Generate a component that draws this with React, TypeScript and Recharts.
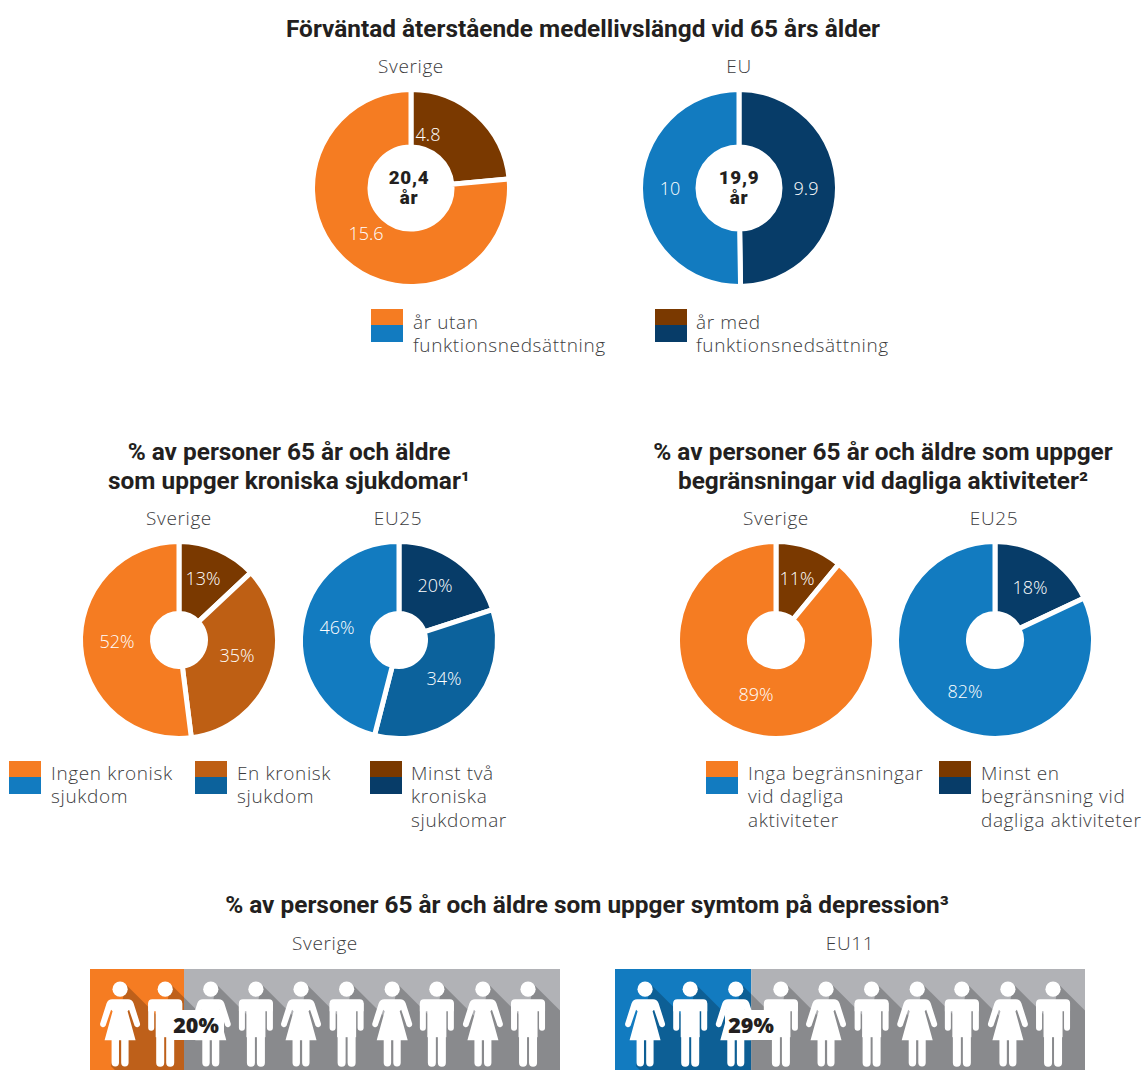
import React from "react";
import { Bar, BarChart, Cell, Pie, PieChart, Scatter, ScatterChart, XAxis, YAxis } from "recharts";

// Values
const lifeSweden = [4.8, 15.6];
const lifeEu = [9.9, 10];
const chronicSweden = [13, 35, 52];
const chronicEu = [20, 34, 46];
const limitSweden = [11, 89];
const limitEu = [18, 82];
const depressionSweden = 20;
const depressionEu = 29;
// heads of the ten figures, as % of the panel width
const peopleX = [6.4, 16, 25.7, 35.3, 44.9, 54.6, 64.3, 73.8, 83.6, 93.2];

const ORANGE = "#f57c22";
const ORANGE_MID = "#be5f14";
const BROWN = "#7a3900";
const BLUE = "#127bc0";
const BLUE_MID = "#0c629c";
const NAVY = "#073c68";
const GREY = "#b1b2b6";

const TITLE_FONT = "Roboto, sans-serif";
const BODY_FONT = "'Open Sans', sans-serif";
const INK = "#231f20";
const SOFT = "#3c3c3e";
const TITLE_SIZE = 24.4;
const BODY_SIZE = 19;

function Txt({ x, y, size = BODY_SIZE, weight = 300, color = SOFT, font = BODY_FONT, align = "center", lineHeight = 1, spacing = 0.62, children }: any) {
  const tx = align === "center" ? "translate(-50%,-50%)" : "translate(0,-50%)";
  return (
    <div
      style={{
        position: "absolute",
        left: x,
        top: y,
        transform: tx,
        fontFamily: font,
        fontSize: size,
        fontWeight: weight,
        color,
        whiteSpace: "nowrap",
        textAlign: align,
        lineHeight,
        letterSpacing: spacing,
      }}
    >
      {children}
    </div>
  );
}

function Title({ x, y, children }: any) {
  return (
    <Txt x={x} y={y} size={TITLE_SIZE} weight={700} color={INK} font={TITLE_FONT} spacing={0}>
      {children}
    </Txt>
  );
}

function Donut({ x, y, values, colors, offsets, hole, value }: any) {
  const rows = values.map((v: number, i: number) => ({ name: String(i), v }));
  const size = 220;
  const renderLabel = (p: any) => (
    <text
      x={p.cx + offsets[p.index][0]}
      y={p.cy + offsets[p.index][1]}
      fill="#fff"
      textAnchor="middle"
      dominantBaseline="central"
      fontFamily={BODY_FONT}
      fontWeight={300}
      fontSize={18}
    >
      {value ? String(values[p.index]) : `${values[p.index]}%`}
    </text>
  );
  return (
    <div style={{ position: "absolute", left: x - size / 2, top: y - size / 2 }}>
      <PieChart width={size} height={size} margin={{ top: 0, right: 0, bottom: 0, left: 0 }}>
        <Pie
          data={rows}
          dataKey="v"
          cx={size / 2}
          cy={size / 2}
          outerRadius={98.5}
          innerRadius={hole}
          startAngle={90}
          endAngle={-270}
          stroke="#fff"
          strokeWidth={5}
          label={renderLabel}
          labelLine={false}
          isAnimationActive={false}
        >
          {rows.map((r: any, i: number) => (
            <Cell key={r.name} fill={colors[i]} />
          ))}
        </Pie>
      </PieChart>
    </div>
  );
}

function Swatch({ x, y, top, bottom }: any) {
  return (
    <div style={{ position: "absolute", left: x, top: y, width: 32, height: 33 }}>
      <div style={{ height: 16, background: top }} />
      <div style={{ height: 17, background: bottom }} />
    </div>
  );
}

function Lines({ x, y, lines }: any) {
  return lines.map((l: string, i: number) => (
    <Txt key={l} x={x} y={y + i * 23.5} align="left">
      {l}
    </Txt>
  ));
}

// shadow strip: head top-right and foot bottom-left swept along 45 degrees
const ShadowShape = (p: any) => {
  const { cx, cy } = p;
  const d = 200;
  const ax = cx + 5.3;
  const ay = cy - 5.3;
  const bx = cx - 9;
  const by = cy + 77;
  return <polygon points={`${ax},${ay} ${ax + d},${ay + d} ${bx + d},${by + d} ${bx},${by}`} fill="#000" />;
};

const PersonShape = (p: any) => {
  const { cx, cy, index } = p;
  const woman = index % 2 === 0;
  return (
    <g transform={`translate(${cx},${cy})`} fill="#fff" stroke="none">
      <circle r={7.6} />
      {woman ? (
        <>
          <path d="M-8 10 H8 Q12 10 13.5 14 L20 34.5 A3 3 0 0 1 14.5 36.5 L9 20.5 L7.5 22 L15.5 51 H-15.5 L-7.5 22 L-9 20.5 L-14.5 36.5 A3 3 0 0 1 -20 34.5 L-13.5 14 Q-12 10 -8 10 Z" />
          <path d="M-4.8 50 V73.5 M4.8 50 V73.5" stroke="#fff" strokeWidth={7.4} strokeLinecap="round" />
        </>
      ) : (
        <>
          <path d="M-13 10 H13 Q17 10 17 14 V22 H-17 V14 Q-17 10 -13 10 Z" />
          <rect x={-9.5} y={12} width={19} height={36} />
          <path d="M-14 15 V38.5 M14 15 V38.5" stroke="#fff" strokeWidth={6} strokeLinecap="round" />
          <path d="M-5 46 V73.5 M5 46 V73.5" stroke="#fff" strokeWidth={8} strokeLinecap="round" />
        </>
      )}
    </g>
  );
};

function PeoplePanel({ x, share, accent, badgeX }: any) {
  const w = 470;
  const h = 101;
  const row = [{ name: "panel", share, rest: 100 - share }];
  const people = peopleX.map((px) => ({ px, level: 0.8 }));
  return (
    <>
      <div style={{ position: "absolute", left: x, top: 969 }}>
        <BarChart width={w} height={h} data={row} layout="vertical" barCategoryGap={0} margin={{ top: 0, right: 0, bottom: 0, left: 0 }}>
          <XAxis type="number" domain={[0, 100]} hide />
          <YAxis type="category" dataKey="name" hide />
          <Bar dataKey="share" stackId="a" fill={accent} isAnimationActive={false} />
          <Bar dataKey="rest" stackId="a" fill={GREY} isAnimationActive={false} />
        </BarChart>
      </div>
      <div style={{ position: "absolute", left: x, top: 969 }}>
        <ScatterChart width={w} height={h} margin={{ top: 0, right: 0, bottom: 0, left: 0 }}>
          <XAxis type="number" dataKey="px" domain={[0, 100]} hide />
          <YAxis type="number" dataKey="level" domain={[0, 1]} hide />
          <Scatter className="people-shadow" data={people} shape={ShadowShape} isAnimationActive={false} />
          <Scatter data={people} shape={PersonShape} isAnimationActive={false} />
        </ScatterChart>
      </div>
      <div style={{ position: "absolute", left: badgeX - 27, top: 1010, width: 54, height: 30, background: "#fff" }} />
      <Txt x={badgeX - 1} y={1025} size={21.5} weight={800} color={INK} spacing={0}>
        {share}%
      </Txt>
    </>
  );
}

function Centre({ x, top, bottom }: any) {
  return (
    <Txt x={x} y={188} size={18.8} weight={900} color={INK} font={TITLE_FONT} lineHeight="20px" spacing={0.7}>
      {top}
      <br />
      {bottom}
    </Txt>
  );
}

export default function App() {
  return (
    <div style={{ position: "absolute", left: 0, top: 0, width: 1145, height: 1070, overflow: "hidden", background: "#fff" }}>
      <style>{`.people-shadow { opacity: 0.22; }`}</style>

      <Title x={583} y={29}>Förväntad återstående medellivslängd vid 65 års ålder</Title>
      <Txt x={411} y={65.5}>Sverige</Txt>
      <Txt x={739} y={65.5}>EU</Txt>
      <Donut x={411} y={188} values={lifeSweden} colors={[BROWN, ORANGE]} hole={41} value offsets={[[17, -54], [-45, 45]]} />
      <Donut x={739} y={188} values={lifeEu} colors={[NAVY, BLUE]} hole={41} value offsets={[[67, 0], [-69, 0]]} />
      <Centre x={409} top="20,4" bottom="år" />
      <Centre x={739} top="19,9" bottom="år" />
      <Swatch x={371} y={309} top={ORANGE} bottom={BLUE} />
      <Lines x={413} y={321.5} lines={["år utan", "funktionsnedsättning"]} />
      <Swatch x={655} y={309} top={BROWN} bottom={NAVY} />
      <Lines x={696} y={321.5} lines={["år med", "funktionsnedsättning"]} />

      <Title x={289} y={452}>% av personer 65 år och äldre</Title>
      <Title x={289} y={481}>som uppger kroniska sjukdomar¹</Title>
      <Title x={883} y={452}>% av personer 65 år och äldre som uppger</Title>
      <Title x={883} y={481}>begränsningar vid dagliga aktiviteter²</Title>
      <Txt x={179} y={517.5}>Sverige</Txt>
      <Txt x={398} y={517.5}>EU25</Txt>
      <Txt x={776} y={517.5}>Sverige</Txt>
      <Txt x={994} y={517.5}>EU25</Txt>
      <Donut x={179} y={640} values={chronicSweden} colors={[BROWN, ORANGE_MID, ORANGE]} hole={26.5} offsets={[[24, -62], [58, 15], [-62, 1]]} />
      <Donut x={398.5} y={640} values={chronicEu} colors={[NAVY, BLUE_MID, BLUE]} hole={26.5} offsets={[[36, -55], [45, 38], [-62, -13]]} />
      <Donut x={776} y={640} values={limitSweden} colors={[BROWN, ORANGE]} hole={26.5} offsets={[[21, -62], [-20, 54]]} />
      <Donut x={994.5} y={640} values={limitEu} colors={[NAVY, BLUE]} hole={26.5} offsets={[[35, -53], [-30, 51]]} />
      <Swatch x={9} y={761} top={ORANGE} bottom={BLUE} />
      <Lines x={51} y={772.5} lines={["Ingen kronisk", "sjukdom"]} />
      <Swatch x={195} y={761} top={ORANGE_MID} bottom={BLUE_MID} />
      <Lines x={237} y={772.5} lines={["En kronisk", "sjukdom"]} />
      <Swatch x={370} y={761} top={BROWN} bottom={NAVY} />
      <Lines x={411} y={772.5} lines={["Minst två", "kroniska", "sjukdomar"]} />
      <Swatch x={706} y={761} top={ORANGE} bottom={BLUE} />
      <Lines x={748} y={772.5} lines={["Inga begränsningar", "vid dagliga", "aktiviteter"]} />
      <Swatch x={939} y={761} top={BROWN} bottom={NAVY} />
      <Lines x={981} y={772.5} lines={["Minst en", "begränsning vid", "dagliga aktiviteter"]} />

      <Title x={587} y={905}>% av personer 65 år och äldre som uppger symtom på depression³</Title>
      <Txt x={325} y={942.5}>Sverige</Txt>
      <Txt x={850} y={942.5}>EU11</Txt>
      <PeoplePanel x={90} share={depressionSweden} accent={ORANGE} badgeX={197} />
      <PeoplePanel x={615} share={depressionEu} accent={BLUE} badgeX={752} />
    </div>
  );
}
